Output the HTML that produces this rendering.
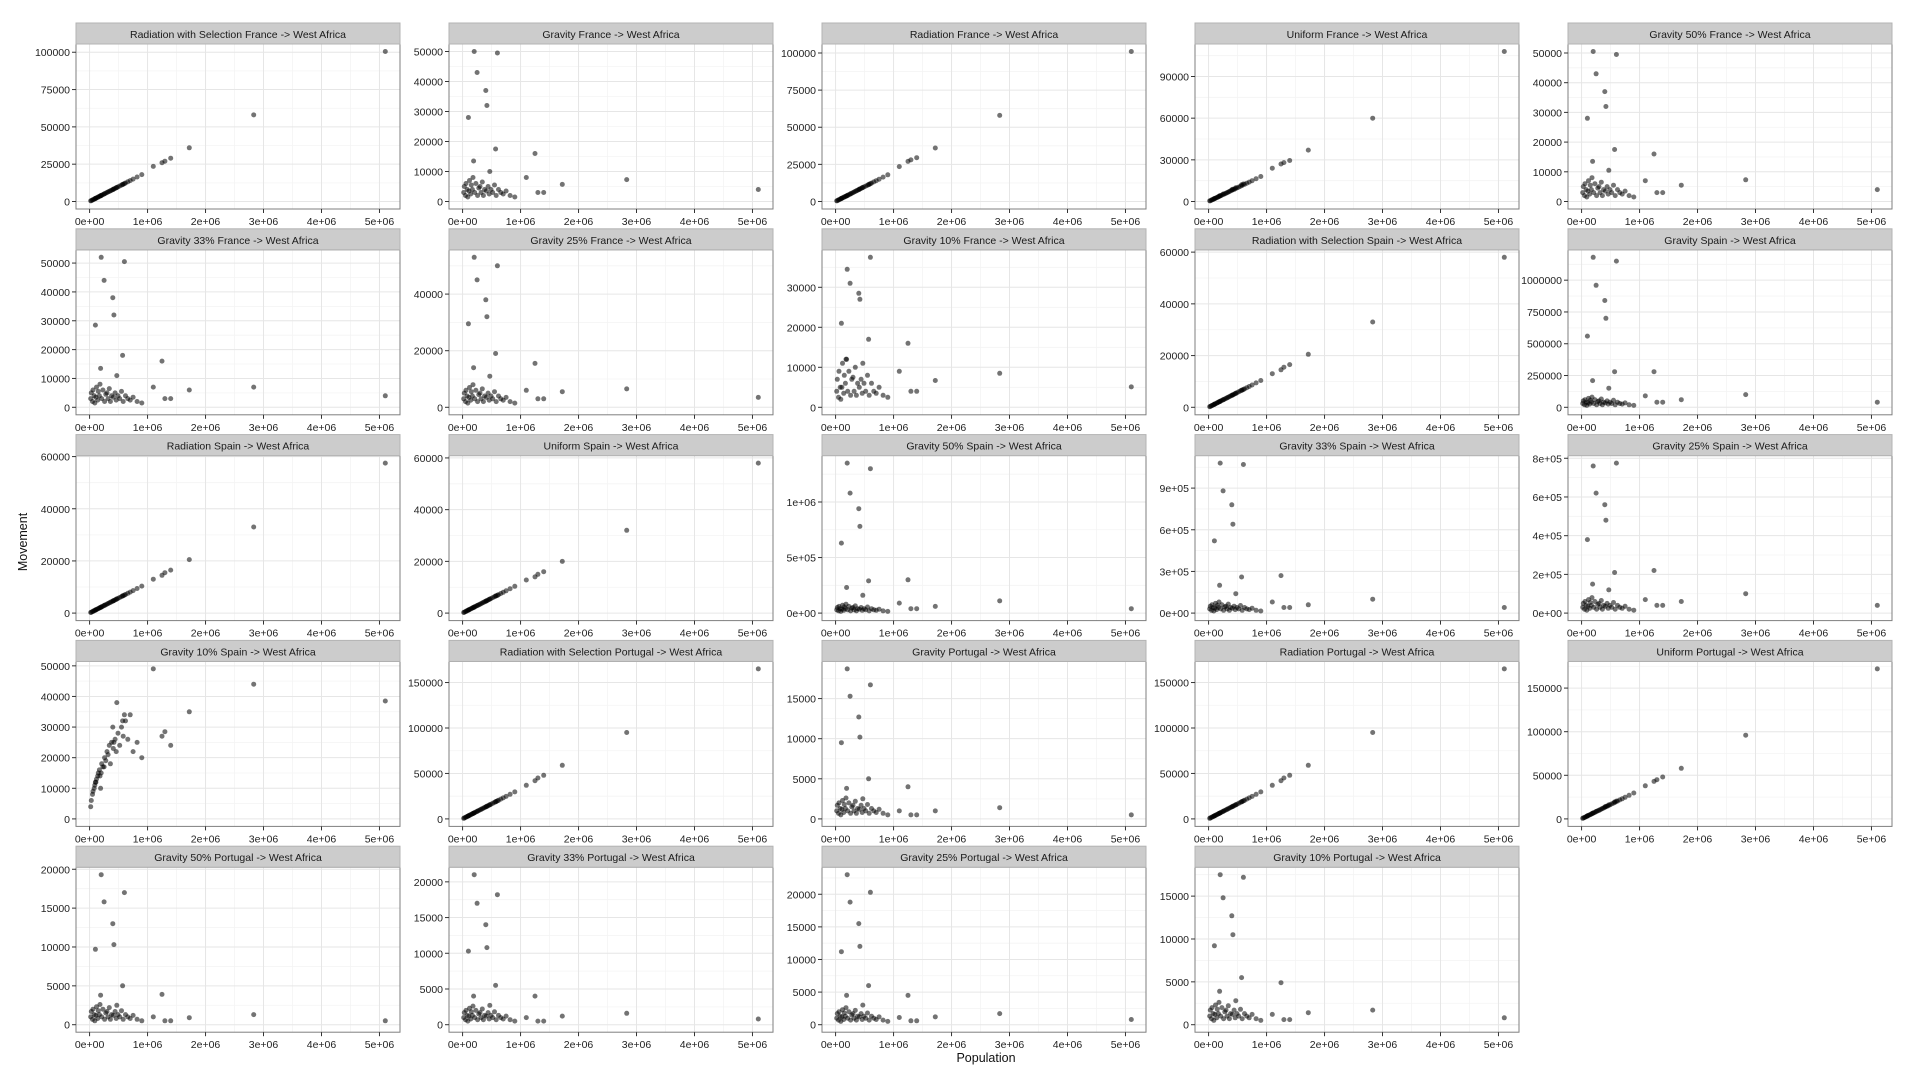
<!DOCTYPE html>
<html><head><meta charset="utf-8"><style>
html,body{margin:0;padding:0;background:#fff;}
svg{display:block;font-family:"Liberation Sans","DejaVu Sans",sans-serif;}
</style></head><body>
<svg id="chart" width="1920" height="1080" viewBox="0 0 1920 1080"></svg>
<script>
// population (millions) shared across panels: 16 notable cities then 34 cluster cities
const popOut = [0.10,0.20,0.25,0.19,0.40,0.42,0.60,0.57,1.25,1.72,2.83,5.10,1.10,1.30,1.40,0.47];
const popCluster = [0.02,0.03,0.05,0.06,0.08,0.09,0.11,0.12,0.14,0.15,0.17,0.18,0.21,0.23,0.26,0.28,0.30,0.32,0.34,0.36,0.38,0.41,0.44,0.46,0.49,0.52,0.55,0.58,0.62,0.66,0.70,0.75,0.82,0.90];
// cluster movements (thousands)
const linFr = [0.4,0.6,1,1.2,1.6,1.8,2.2,2.4,2.8,3,3.4,3.6,4.2,4.6,5.2,5.6,6,6.4,6.8,7.2,7.6,8.2,8.8,9.2,9.8,10.4,11,11.6,12.4,13.2,14,15,16.4,18];
const linEs = [0.23,0.35,0.58,0.69,0.92,1.04,1.27,1.38,1.61,1.73,1.96,2.07,2.42,2.65,2.99,3.22,3.45,3.68,3.91,4.14,4.37,4.72,5.06,5.29,5.64,5.98,6.33,6.67,7.13,7.59,8.05,8.63,9.43,10.35];
const linPt = [0.66,0.99,1.65,1.98,2.64,2.97,3.63,3.96,4.62,4.95,5.61,5.94,6.93,7.59,8.58,9.24,9.9,10.56,11.22,11.88,12.54,13.53,14.52,15.18,16.17,17.16,18.15,19.14,20.46,21.78,23.1,24.75,27.06,29.7];
const gravFr = [3,5,2,6,4,1.5,3.5,7,2.5,5.5,4,8,3,6,2,4.5,5,3,6.5,2,4,3.5,5,2.5,4,3,5.5,2,4,3,2.5,3.5,2,1.5];
const gravFr10 = [4,7,2.5,9,5,2,5,11,3.5,8,6,12,4,9,3,7,7.5,4,10,3,6,5,7,3.5,6,4,8,3,6,4,3.5,5,3,2.5];
const gravEs = [30,50,20,60,40,15,35,70,25,55,40,80,30,60,20,45,50,30,65,20,40,35,50,25,40,30,55,20,40,30,25,35,20,15];
const gravEs10 = [4,6,8,9,10,11,12,13,14,15,16,14,18,17,20,19,22,21,24,18,25,23,26,22,28,24,30,27,32,26,34,22,25,20];
const gravPt = [1,1.7,0.7,2,1.3,0.5,1.2,2.3,0.8,1.8,1.3,2.6,1,2,0.7,1.5,1.7,1,2.2,0.7,1.3,1.2,1.7,0.8,1.3,1,1.8,0.7,1.3,1,0.8,1.2,0.7,0.5];
// panel titles
const titles = ["Radiation with Selection France -> West Africa","Gravity France -> West Africa","Radiation France -> West Africa","Uniform France -> West Africa","Gravity 50% France -> West Africa",
"Gravity 33% France -> West Africa","Gravity 25% France -> West Africa","Gravity 10% France -> West Africa","Radiation with Selection Spain -> West Africa","Gravity Spain -> West Africa",
"Radiation Spain -> West Africa","Uniform Spain -> West Africa","Gravity 50% Spain -> West Africa","Gravity 33% Spain -> West Africa","Gravity 25% Spain -> West Africa",
"Gravity 10% Spain -> West Africa","Radiation with Selection Portugal -> West Africa","Gravity Portugal -> West Africa","Radiation Portugal -> West Africa","Uniform Portugal -> West Africa",
"Gravity 50% Portugal -> West Africa","Gravity 33% Portugal -> West Africa","Gravity 25% Portugal -> West Africa","Gravity 10% Portugal -> West Africa"];
// notable-city movements per panel (thousands)
const outVals = [
[2,4,5,3.8,8,8.4,12,11.4,26,36,58,100.5,23.5,27,29,9.4],
[28,50,43,13.5,37,32,49.5,17.5,16,5.7,7.3,4,8,3,3,10],
[2,4,5,3.8,8,8.4,12,11.4,27,36,58,101,23.5,28,29.5,9.4],
[2.1,4.2,5.3,4,8.4,8.8,12.6,12,27,37,60,108,24,28,29.5,9.9],
[28,50.5,43,13.5,37,32,49.5,17.5,16,5.5,7.3,4,7,3,3,10.5],
[28.5,52,44,13.5,38,32,50.5,18,16,6,7,4,7,3,3,11],
[29.5,53,45,14,38,32,50,19,15.5,5.5,6.5,3.5,6,3,3,11],
[21,34.5,31,12,28.5,27,37.5,17,16,6.7,8.5,5.1,9,4,4,11],
[1.15,2.3,2.9,2.2,4.6,4.8,6.9,6.6,14.5,20.5,33,58,13,15.5,16.5,5.4],
[560,1180,960,210,840,700,1150,280,280,60,100,40,90,40,40,150],
[1.15,2.3,2.9,2.2,4.6,4.8,6.9,6.6,14.5,20.5,33,57.5,13,15.5,16.5,5.4],
[1.15,2.3,2.9,2.2,4.6,4.8,6.9,6.6,14,20,32,58,12.8,15,16,5.4],
[630,1350,1080,230,940,780,1300,290,300,60,110,40,90,40,40,160],
[520,1080,880,200,780,640,1070,260,270,60,100,40,80,40,40,140],
[380,760,620,150,560,480,775,210,220,60,100,40,70,40,40,120],
[12,15,17,10,30,25,34,32,27,35,44,38.5,49,28.5,24,38],
[3.3,6.6,8.3,6.3,13.2,13.9,19.8,18.8,42,59,95,165,37,45,48,15.5],
[9.5,18.7,15.3,3.8,12.7,10.2,16.7,5,4,1,1.4,0.5,1,0.5,0.5,2.5],
[3.3,6.6,8.3,6.3,13.2,13.9,19.8,18.8,42,59,95,165,37,45,48,15.5],
[3.4,6.8,8.5,6.5,13.6,14.3,20.4,19.4,43,58,96,172,38,45,48,16],
[9.7,19.3,15.8,3.8,13,10.3,17,5,3.9,0.9,1.3,0.5,1,0.5,0.5,2.5],
[10.3,21,17,4,14,10.8,18.2,5.5,4,1.2,1.6,0.8,1,0.5,0.5,2.7],
[11.2,23,18.8,4.5,15.5,12,20.3,6,4.5,1.2,1.7,0.8,1.1,0.6,0.6,3],
[9.2,17.5,14.8,3.9,12.7,10.5,17.2,5.5,4.9,1.4,1.7,0.8,1.2,0.6,0.6,2.8]];
const clusterRefs = [linFr,gravFr,linFr,linFr,gravFr,gravFr,gravFr,gravFr10,linEs,gravEs,linEs,linEs,gravEs,gravEs,gravEs,gravEs10,linPt,gravPt,linPt,linPt,gravPt,gravPt,gravPt,gravPt];
// y tick values (thousands) and labels
const yTicks = [[0,25,50,75,100],[0,10,20,30,40,50],[0,25,50,75,100],[0,30,60,90],[0,10,20,30,40,50],
[0,10,20,30,40,50],[0,20,40],[0,10,20,30],[0,20,40,60],[0,250,500,750,1000],
[0,20,40,60],[0,20,40,60],[0,500,1000],[0,300,600,900],[0,200,400,600,800],
[0,10,20,30,40,50],[0,50,100,150],[0,5,10,15],[0,50,100,150],[0,50,100,150],
[0,5,10,15,20],[0,5,10,15,20],[0,5,10,15,20],[0,5,10,15]];
const yLabels = [["0","25000","50000","75000","100000"],["0","10000","20000","30000","40000","50000"],["0","25000","50000","75000","100000"],["0","30000","60000","90000"],["0","10000","20000","30000","40000","50000"],
["0","10000","20000","30000","40000","50000"],["0","20000","40000"],["0","10000","20000","30000"],["0","20000","40000","60000"],["0","250000","500000","750000","1000000"],
["0","20000","40000","60000"],["0","20000","40000","60000"],["0e+00","5e+05","1e+06"],["0e+00","3e+05","6e+05","9e+05"],["0e+00","2e+05","4e+05","6e+05","8e+05"],
["0","10000","20000","30000","40000","50000"],["0","50000","100000","150000"],["0","5000","10000","15000"],["0","50000","100000","150000"],["0","50000","100000","150000"],
["0","5000","10000","15000","20000"],["0","5000","10000","15000","20000"],["0","5000","10000","15000","20000"],["0","5000","10000","15000"]];
const xTicks = [0,1,2,3,4,5];
const xLabels = ["0e+00","1e+06","2e+06","3e+06","4e+06","5e+06"];

const NS="http://www.w3.org/2000/svg";
const svg=document.getElementById('chart');
function mk(tag,attrs,parent){const e=document.createElementNS(NS,tag);for(const k in attrs)e.setAttribute(k,attrs[k]);(parent||svg).appendChild(e);return e;}
const PW=324, SH=21, PH=165, COLX=76, COLSTEP=373, ROWY=23, ROWSTEP=205.8;
const pops = popOut.concat(popCluster);
const xmin=Math.min(...pops), xmax=Math.max(...pops);
titles.forEach((title,i)=>{
  const c=i%5, r=Math.floor(i/5);
  const x0=COLX+c*COLSTEP, y0=ROWY+r*ROWSTEP, py=y0+SH;
  const g=mk('g',{});
  
  
  const vals=outVals[i].concat(clusterRefs[i]);
  const ymin=0, ymax=Math.max(...vals);
  const xr=xmax-xmin, yr=ymax-ymin;
  const X=v=>x0+(v-(xmin-0.05*xr))/(1.1*xr)*PW;
  const Y=v=>py+PH-(v-(ymin-0.05*yr))/(1.1*yr)*PH;
  mk('rect',{x:x0,y:py,width:PW,height:PH,fill:'#fff'},g);
  const yt=yTicks[i];
  const step=yt[1]-yt[0];
  for(let k=-1;k<yt.length+1;k++){const v=yt[0]+(k+0.5)*step;const yy=Y(v);if(yy>py&&yy<py+PH)mk('line',{x1:x0,x2:x0+PW,y1:yy,y2:yy,stroke:'#f4f4f4','stroke-width':0.8},g);}
  for(let k=-1;k<xTicks.length;k++){const v=k+0.5;const xx=X(v);if(xx>x0&&xx<x0+PW)mk('line',{x1:xx,x2:xx,y1:py,y2:py+PH,stroke:'#f4f4f4','stroke-width':0.8},g);}
  yt.forEach(v=>{const yy=Y(v);mk('line',{x1:x0,x2:x0+PW,y1:yy,y2:yy,stroke:'#e6e6e6','stroke-width':1},g);});
  xTicks.forEach(v=>{const xx=X(v);mk('line',{x1:xx,x2:xx,y1:py,y2:py+PH,stroke:'#e6e6e6','stroke-width':1},g);});
  vals.forEach((v,k)=>{
    const p=mk('circle',{cx:X(pops[k]).toFixed(1),cy:Y(v).toFixed(1),r:2.5,fill:'#000','fill-opacity':0.55},g);
    
    
  });
  mk('rect',{x:x0,y:py,width:PW,height:PH,fill:'none',stroke:'#7f7f7f','stroke-width':1},g);
  const s=mk('rect',{x:x0,y:y0,width:PW,height:SH,fill:'#cccccc',stroke:'#b3b3b3','stroke-width':1},g);
  
  
  const st=mk('text',{x:x0+PW/2,y:y0+15,'text-anchor':'middle','font-size':10.5,fill:'#1a1a1a'},g);
  st.textContent=title;
  
  
  yt.forEach((v,k)=>{const yy=Y(v);
    mk('line',{x1:x0-4,x2:x0,y1:yy,y2:yy,stroke:'#333','stroke-width':1},g);
    const t=mk('text',{x:x0-6,y:yy+4,'text-anchor':'end','font-size':10.5,fill:'#222'},g);
    t.textContent=yLabels[i][k];
    
    
  });
  xTicks.forEach((v,k)=>{const xx=X(v);
    mk('line',{x1:xx,x2:xx,y1:py+PH,y2:py+PH+4,stroke:'#333','stroke-width':1},g);
    const t=mk('text',{x:xx,y:py+PH+16,'text-anchor':'middle','font-size':10.5,fill:'#222'},g);
    t.textContent=xLabels[k];
    
    
  });
});
const yl=mk('text',{x:0,y:0,transform:'translate(27,542) rotate(-90)','text-anchor':'middle','font-size':12.5,fill:'#111'});
yl.textContent='Movement';


const xl=mk('text',{x:986,y:1062,'text-anchor':'middle','font-size':12.5,fill:'#111'});
xl.textContent='Population';


</script>
</body></html>
